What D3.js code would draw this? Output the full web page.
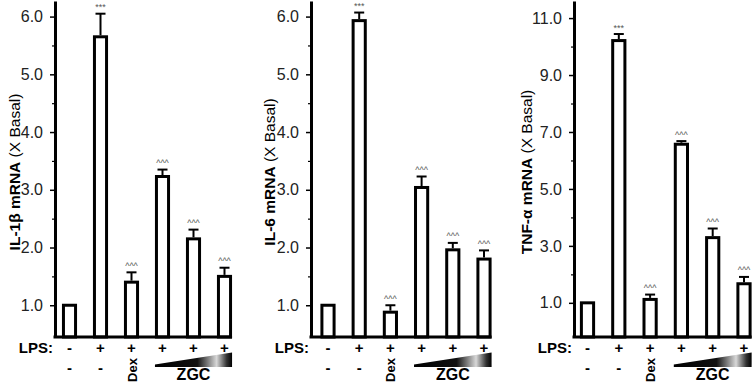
<!DOCTYPE html>
<html>
<head>
<meta charset="utf-8">
<script src="https://cdn.jsdelivr.net/npm/d3@7/dist/d3.min.js"></script>
<style>
  body { margin: 0; background: #fff; }
  svg { display: block; font-family: "Liberation Sans", Arial, sans-serif; }
</style>
</head>
<body>
<div id="chart"></div>
<script>
// groups (left to right)
const categories = ["Basal", "LPS", "LPS+Dex", "LPS+ZGC low", "LPS+ZGC mid", "LPS+ZGC high"];
const lpsRow = ["-", "+", "+", "+", "+", "+"];
const treatRow = ["-", "-", "Dex", "", "", ""];
const sigMarks = ["", "***", "^^^", "^^^", "^^^", "^^^"];

// values (fold over basal) and error bars
const il1bMeans = [1.0, 5.65, 1.40, 3.23, 2.15, 1.50];
const il1bErr   = [0, 0.40, 0.17, 0.12, 0.16, 0.15];
const il6Means  = [1.0, 5.93, 0.88, 3.04, 1.96, 1.80];
const il6Err    = [0, 0.14, 0.12, 0.19, 0.12, 0.15];
const tnfMeans  = [1.0, 10.21, 1.12, 6.57, 3.29, 1.67];
const tnfErr    = [0, 0.23, 0.17, 0.11, 0.32, 0.24];

// tick labels
const ilTicks = [1, 2, 3, 4, 5, 6];
const ilMinor = [1.5, 2.5, 3.5, 4.5, 5.5];
const tnfTicks = [1, 3, 5, 7, 9, 11];
const tnfMinor = [2, 4, 6, 8, 10];

const width = 754, height = 387;
const baseY = 337;

const panels = [
    { label: "IL-1β mRNA", means: il1bMeans, err: il1bErr, ticks: ilTicks, minor: ilMinor,
      domain: [0.45, 6.27], axisX: 55, c0: 69.5, step: 31, titleX: 15 },
    { label: "IL-6 mRNA", means: il6Means, err: il6Err, ticks: ilTicks, minor: ilMinor,
      domain: [0.45, 6.27], axisX: 311, c0: 328, step: 31.2, titleX: 270 },
    { label: "TNF-α mRNA", means: tnfMeans, err: tnfErr, ticks: tnfTicks, minor: tnfMinor,
      domain: [-0.2, 11.6], axisX: 574, c0: 587.5, step: 31.3, titleX: 527 }
];

const svg = d3.select("#chart")
    .append("svg")
        .attr("width", width)
        .attr("height", height);

// wedge gradient for ZGC dose
const grad = svg.append("defs").append("linearGradient")
    .attr("id", "wedge")
    .attr("x1", "0%").attr("x2", "100%");
[[0, "#000"], [0.55, "#111"], [0.8, "#d8d8d8"], [0.93, "#333"], [1, "#000"]].forEach(([o, c]) => {
    grad.append("stop").attr("offset", o).attr("stop-color", c);
});

panels.forEach(p => {
    const g = svg.append("g");

    const y = d3.scaleLinear()
        .domain(p.domain)
        .range([baseY, 1]);

    const x = d3.scaleBand()
        .domain(d3.range(categories.length))
        .range([p.c0 - p.step / 2, p.c0 + (categories.length - 0.5) * p.step])
        .paddingInner(0.61)
        .paddingOuter(0.305);

    const bw = x.bandwidth();
    const data = categories.map((c, i) => ({ i, mean: p.means[i], err: p.err[i], mark: sigMarks[i] }));

    // minor ticks
    g.append("g")
        .attr("transform", `translate(${p.axisX},0)`)
        .call(d3.axisLeft(y).tickValues(p.minor).tickSize(3).tickFormat(""))
        .call(a => a.select(".domain").remove())
        .selectAll("line").attr("stroke-width", 1.2);

    // major axis
    const yAxis = g.append("g")
        .attr("transform", `translate(${p.axisX},0)`)
        .call(d3.axisLeft(y).tickValues(p.ticks).tickSize(5).tickSizeOuter(0)
            .tickPadding(7).tickFormat(d3.format(".1f")));
    yAxis.select(".domain").attr("stroke-width", 3);
    yAxis.selectAll(".tick line").attr("stroke-width", 1.5);
    yAxis.selectAll("text")
        .attr("font-size", 16)
        .attr("fill", "#222")
        .attr("font-family", "Liberation Sans, Arial, sans-serif");

    // bars
    g.selectAll("rect.bar")
        .data(data)
        .enter()
        .append("rect")
            .attr("class", "bar")
            .attr("x", d => x(d.i))
            .attr("y", d => y(d.mean))
            .attr("width", bw)
            .attr("height", d => baseY - y(d.mean))
            .attr("fill", "white")
            .attr("stroke", "black")
            .attr("stroke-width", 3);

    // error bars
    const eb = data.filter(d => d.err > 0);
    g.selectAll("line.err")
        .data(eb)
        .enter()
        .append("line")
            .attr("x1", d => x(d.i) + bw / 2)
            .attr("x2", d => x(d.i) + bw / 2)
            .attr("y1", d => y(d.mean) - 1.5)
            .attr("y2", d => y(d.mean + d.err))
            .attr("stroke", "black")
            .attr("stroke-width", 2);
    g.selectAll("line.cap")
        .data(eb)
        .enter()
        .append("line")
            .attr("x1", d => x(d.i) + bw / 2 - 5)
            .attr("x2", d => x(d.i) + bw / 2 + 5)
            .attr("y1", d => y(d.mean + d.err))
            .attr("y2", d => y(d.mean + d.err))
            .attr("stroke", "black")
            .attr("stroke-width", 2);

    // significance marks
    g.selectAll("text.sig")
        .data(data.filter(d => d.mark))
        .enter()
        .append("text")
            .attr("x", d => x(d.i) + bw / 2)
            .attr("y", d => y(d.mean + d.err) - 3.5)
            .attr("text-anchor", "middle")
            .attr("font-size", 9)
            .attr("fill", "#555")
            .text(d => d.mark);

    // x axis line (to right edge of last bar)
    g.append("line")
        .attr("x1", p.axisX - 1.5)
        .attr("x2", x(categories.length - 1) + bw + 1.5)
        .attr("y1", baseY)
        .attr("y2", baseY)
        .attr("stroke", "black")
        .attr("stroke-width", 3);

    // LPS row
    g.append("text")
        .attr("x", p.axisX - 2)
        .attr("y", 353)
        .attr("text-anchor", "end")
        .attr("font-size", 15)
        .attr("font-weight", "bold")
        .text("LPS:");
    g.selectAll("text.lps")
        .data(lpsRow)
        .enter()
        .append("text")
            .attr("x", (d, i) => x(i) + bw / 2)
            .attr("y", 353)
            .attr("text-anchor", "middle")
            .attr("font-size", 15)
            .attr("font-weight", "bold")
            .text(d => d);

    // treatment row
    treatRow.forEach((t, i) => {
        if (t === "-") {
            g.append("text")
                .attr("x", x(i) + bw / 2)
                .attr("y", 373)
                .attr("text-anchor", "middle")
                .attr("font-size", 15)
                .attr("font-weight", "bold")
                .text(t);
        } else if (t) {
            g.append("text")
                .attr("transform", `translate(${x(i) + bw / 2 + 5},370) rotate(-90)`)
                .attr("text-anchor", "middle")
                .attr("font-size", 13)
                .attr("font-weight", "bold")
                .text(t);
        }
    });

    // ZGC dose wedge
    const wx0 = x(3) - 1.5, wx1 = x(5) + bw + 1.5;
    g.append("polygon")
        .attr("points", [[wx0, 364.5], [wx1, 352.5], [wx1, 367], [wx0, 367]].join(" "))
        .attr("fill", "url(#wedge)");
    g.append("text")
        .attr("x", (wx0 + wx1) / 2)
        .attr("y", 380)
        .attr("text-anchor", "middle")
        .attr("font-size", 16)
        .attr("font-weight", "bold")
        .text("ZGC");

    // y title
    const title = g.append("text")
        .attr("transform", `translate(${p.titleX + 5},172) rotate(-90)`)
        .attr("text-anchor", "middle")
        .attr("font-size", 15.5);
    title.append("tspan").attr("font-weight", "bold").text(p.label);
    title.append("tspan").text(" (X Basal)");
});
</script>
</body>
</html>
